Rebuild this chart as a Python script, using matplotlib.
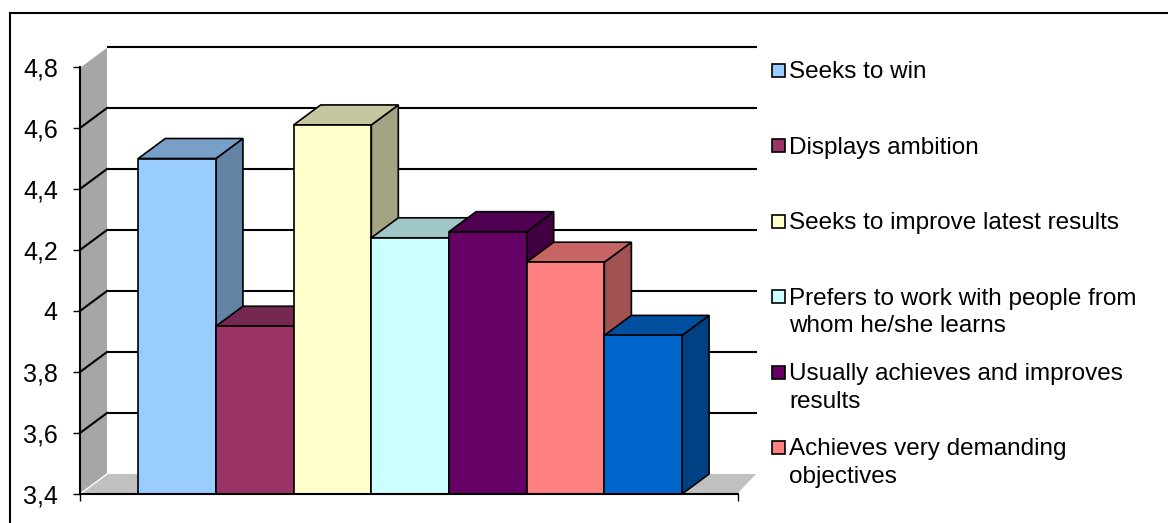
import matplotlib
matplotlib.use("Agg")
import matplotlib.pyplot as plt
from matplotlib.patches import Polygon, Rectangle
from matplotlib.lines import Line2D

plt.rcParams['font.family'] = ['Liberation Sans', 'DejaVu Sans']

# mean scores per behaviour (one category, seven series)
labels = ["Seeks to win",
          "Displays ambition",
          "Seeks to improve latest results",
          "Prefers to work with people from\nwhom he/she learns",
          "Usually achieves and improves\nresults",
          "Achieves very demanding\nobjectives"]
values = [4.50, 3.95, 4.61, 4.24, 4.26, 4.16, 3.92]
colors = ["#99ccff", "#993366", "#ffffcc", "#ccffff", "#660066", "#ff8080", "#0066cc"]
yticks = [3.4, 3.6, 3.8, 4.0, 4.2, 4.4, 4.6, 4.8]

W, H = 1168, 523
fig = plt.figure(figsize=(W / 100, H / 100), dpi=100)
ax = fig.add_axes([80 / W, 29 / H, 658 / W, 427 / H])
x0, x1 = -0.75, 7.72
y0, y1 = 3.4, 4.8
ax.set_xlim(x0, x1)
ax.set_ylim(y0, y1)
ax.patch.set_visible(False)

# pixel -> data scale for the oblique depth offset
ux = 658 / (x1 - x0)
uy = 427 / (y1 - y0)
DX, DY = 27 / ux, 20 / uy
DXR = 19 / ux  # right end of the back wall sits a bit closer


def shade(c, f):
    r, g, b = matplotlib.colors.to_rgb(c)
    return (r * f, g * f, b * f)


# left wall and floor
ax.add_patch(Polygon([(x0, y0), (x0, y1), (x0 + DX, y1 + DY), (x0 + DX, y0 + DY)],
                     closed=True, facecolor="#a6a6a6", edgecolor="none", clip_on=False, zorder=1))
ax.add_patch(Polygon([(x0, y0), (x1, y0), (x1 + DXR, y0 + DY), (x0 + DX, y0 + DY)],
                     closed=True, facecolor="#c0c0c0", edgecolor="none", clip_on=False, zorder=1))
ax.plot([x0, x0 + DX], [y1, y1 + DY], color="white", lw=1, clip_on=False, zorder=2)
ax.plot([x0, x0 + DX], [y0, y0 + DY], color="white", lw=1, clip_on=False, zorder=2)
ax.plot([x1, x1 + DXR], [y0, y0 + DY], color="white", lw=1, clip_on=False, zorder=2)

# gridlines: across the left wall, then along the back wall
for t in yticks[1:]:
    if t < y1:
        ax.plot([x0, x0 + DX], [t, t + DY], color="black", lw=1.5, clip_on=False, zorder=2)
    ax.plot([x0 + DX, x1 + DXR], [t + DY, t + DY], color="black", lw=1.5,
            clip_on=False, zorder=2, solid_capstyle="butt")

# 3D columns, left to right so each front face covers the previous side
for i, (v, c) in enumerate(zip(values, colors)):
    z = 3 + i * 3
    side = [(i + 1, y0), (i + 1, v), (i + 1 + DX, v + DY), (i + 1 + DX, y0 + DY)]
    top = [(i, v), (i + 1, v), (i + 1 + DX, v + DY), (i + DX, v + DY)]
    ax.add_patch(Polygon(side, closed=True, facecolor=shade(c, 0.64), edgecolor="black",
                         lw=1.2, joinstyle="miter", clip_on=False, zorder=z))
    ax.add_patch(Polygon(top, closed=True, facecolor=shade(c, 0.78), edgecolor="black",
                         lw=1.2, joinstyle="miter", clip_on=False, zorder=z + 1))
    ax.add_patch(Rectangle((i, y0), 1, v - y0, facecolor=c, edgecolor="black",
                           lw=1.2, joinstyle="miter", clip_on=False, zorder=z + 2))

# axes
for s in ["top", "right"]:
    ax.spines[s].set_visible(False)
for s in ["left", "bottom"]:
    ax.spines[s].set_linewidth(1.5)
    ax.spines[s].set_zorder(30)
ax.set_yticks(yticks)
ax.set_yticklabels([("%g" % t).replace(".", ",") for t in yticks], fontsize=18)
ax.set_xticks([x0, x1])
ax.set_xticklabels([])
ax.tick_params(axis="y", direction="out", length=5, width=1, pad=11)
ax.tick_params(axis="x", direction="out", length=5, width=1)

# legend: one entry every 75 px, wrapped lines 27.5 px apart
def fpx(x, y):
    return x / W, 1 - y / H

for k, lab in enumerate(labels):
    cy = 70 + k * 75.4
    fig.patches.append(Rectangle(fpx(772, cy + 7), 13 / W, 13 / H, transform=fig.transFigure,
                                 facecolor=colors[k], edgecolor="black", lw=1.2))
    for j, line in enumerate(lab.split("\n")):
        fig.text(*fpx(789, cy + 8.5 + j * 27.5), line, fontsize=17.5, va="baseline", ha="left")

# chart area frame (top and left edges)
fig.add_artist(Line2D([9.5 / W, 1], [1 - 13 / H, 1 - 13 / H], transform=fig.transFigure,
                      color="black", lw=1.5))
fig.add_artist(Line2D([9.5 / W, 9.5 / W], [0, 1 - 13 / H], transform=fig.transFigure,
                      color="black", lw=1.5))

fig.savefig("out.png", dpi=100)
